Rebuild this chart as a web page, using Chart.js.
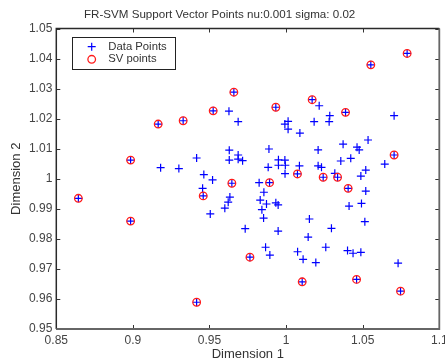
<!DOCTYPE html>
<html>
<head>
<meta charset="utf-8">
<script src="https://cdn.jsdelivr.net/npm/chart.js@4.4.1/dist/chart.umd.min.js"></script>
<style>
  html, body { margin: 0; padding: 0; background: #fff; }
  #wrap { width: 445px; height: 362px; }
</style>
</head>
<body>
<div id="wrap"><canvas id="c" width="445" height="362"></canvas></div>
<script>
const titleText = 'FR-SVM Support Vector Points nu:0.001 sigma: 0.02';
const xAxisTitle = 'Dimension 1';
const yAxisTitle = 'Dimension 2';
const seriesNames = ['Data Points', 'SV points'];

const xTicks = [0.85, 0.9, 0.95, 1, 1.05, 1.1];
const yTicks = [0.95, 0.96, 0.97, 0.98, 0.99, 1, 1.01, 1.02, 1.03, 1.04, 1.05];

// ordinary samples
const dataX = [
  0.9181, 0.9300, 0.9627, 0.9687, 0.9992, 1.0013, 1.0013, 1.0090, 0.9629, 0.9687,
  0.9629, 0.9687, 0.9716, 0.9888, 0.9416, 0.9463, 0.9520, 0.9455, 0.9633, 0.9622,
  0.9600, 0.9505, 0.9733, 0.9950, 0.9992, 0.9950, 0.9995, 0.9993, 0.9883, 0.9824,
  1.0087, 0.9855, 0.9831, 0.9872, 0.9933, 0.9948, 0.9842, 0.9853, 0.9948, 1.0152,
  1.0372, 1.0463, 1.0477, 1.0535, 1.0209, 1.0357, 1.0422, 1.0644, 1.0209, 1.0231,
  1.0318, 1.0488, 1.0520, 1.0520, 1.0411, 1.0492, 1.0296, 1.0514, 1.0144, 1.0259,
  1.0111, 1.0194, 1.0401, 1.0437, 1.0488, 1.0731, 0.9866, 0.9894, 1.0075, 1.0216,
  1.0183, 1.0285, 1.0281, 1.0705
];
const dataY = [
  1.0037, 1.0034, 1.0225, 1.0190, 1.0182, 1.0191, 1.0165, 1.0152, 1.0095, 1.0079,
  1.0062, 1.0065, 1.0060, 1.0099, 1.0069, 1.0014, 0.9996, 0.9968, 0.9939, 0.9922,
  0.9902, 0.9883, 0.9834, 1.0063, 1.0062, 1.0045, 1.0045, 1.0017, 1.0038, 0.9987,
  1.0043, 0.9955, 0.9929, 0.9916, 0.9920, 0.9913, 0.9897, 0.9869, 0.9826, 0.9866,
  1.0115, 1.0105, 1.0096, 1.0129, 1.0096, 1.0059, 1.0068, 1.0049, 1.0043, 1.0038,
  1.0018, 1.0009, 1.0029, 0.9959, 0.9909, 0.9918, 0.9835, 0.9857, 0.9806, 0.9772,
  0.9732, 0.9721, 0.9761, 0.9752, 0.9755, 0.9719, 0.9772, 0.9746, 0.9757, 1.0243,
  1.0190, 1.0210, 1.0190, 1.0210
];

// support vectors (also part of the sample set)
const svX = [
  0.8644, 0.8985, 0.8985, 0.9165, 0.9328, 0.9416, 0.9459, 0.9524, 0.9659, 0.9646,
  0.9764, 0.9933, 0.9892, 1.0074, 1.0105, 1.0170, 1.0242, 1.0336, 1.0388, 1.0405,
  1.0460, 1.0553, 1.0705, 1.0747, 1.0790
];
const svY = [
  0.9935, 1.0062, 0.9859, 1.0182, 1.0193, 0.9589, 0.9943, 1.0226, 1.0288, 0.9985,
  0.9739, 1.0238, 0.9987, 1.0016, 0.9657, 1.0263, 1.0005, 1.0005, 1.0221, 0.9968,
  0.9665, 1.0379, 1.0079, 0.9626, 1.0417
];

const FONT = 'Liberation Sans, Arial, Helvetica, sans-serif';
const pts = (xs, ys) => xs.map((v, i) => ({ x: v, y: ys[i] }));

const crossStyle = { pointStyle: 'cross', radius: 4, borderWidth: 1.2, rotation: 0 };
const ringStyle = { pointStyle: 'circle', radius: 3.8, borderWidth: 1.3, rotation: 0 };

// box, inward tick marks and an in-plot legend
const framePlugin = {
  id: 'frame',
  afterDatasetsDraw(chart) {
    const { ctx, chartArea: a, scales: { x, y } } = chart;
    const t = 4;
    ctx.save();
    ctx.strokeStyle = '#333';
    ctx.lineWidth = 1;
    ctx.beginPath();
    x.ticks.forEach(tk => {
      const px = Math.round(x.getPixelForValue(tk.value)) + 0.5;
      ctx.moveTo(px, a.bottom); ctx.lineTo(px, a.bottom - t);
      ctx.moveTo(px, a.top); ctx.lineTo(px, a.top + t);
    });
    y.ticks.forEach(tk => {
      const py = Math.round(y.getPixelForValue(tk.value)) + 0.5;
      ctx.moveTo(a.left, py); ctx.lineTo(a.left + t, py);
      ctx.moveTo(a.right, py); ctx.lineTo(a.right - t, py);
    });
    ctx.stroke();

    // axes box
    ctx.lineWidth = 1.5;
    ctx.strokeStyle = '#2a2a2a';
    ctx.beginPath();
    ctx.moveTo(a.left, a.bottom); ctx.lineTo(a.left, a.top); ctx.lineTo(a.right, a.top);
    ctx.stroke();
    ctx.strokeStyle = '#666';
    ctx.lineWidth = 1.8;
    ctx.beginPath();
    ctx.moveTo(a.left, a.bottom); ctx.lineTo(a.right, a.bottom); ctx.lineTo(a.right, a.top);
    ctx.stroke();

    // legend
    const lx = a.left + 16, ly = a.top + 8.2, lw = 102.7, lh = 31.6;
    ctx.fillStyle = '#fff';
    ctx.fillRect(lx, ly, lw, lh);
    ctx.strokeStyle = '#222';
    ctx.lineWidth = 1;
    ctx.strokeRect(Math.round(lx) + 0.5, Math.round(ly) + 0.5, Math.round(lw), Math.round(lh));
    ctx.font = '11.3px ' + FONT;
    ctx.textBaseline = 'middle';
    ctx.textAlign = 'left';
    chart.data.datasets.forEach((ds, i) => {
      const rowY = ly + 10 + i * 12.6;
      ctx.strokeStyle = ds.borderColor;
      ctx.fillStyle = 'rgba(0,0,0,0)';
      ctx.lineWidth = ds.borderWidth;
      Chart.helpers.drawPoint(ctx, {
        pointStyle: ds.pointStyle, radius: ds.pointRadius,
        borderWidth: ds.borderWidth, rotation: 0
      }, lx + 19.4, rowY);
      ctx.fillStyle = '#333';
      ctx.fillText(ds.label, lx + 36, rowY);
    });
    ctx.restore();
  }
};

new Chart(document.getElementById('c'), {
  type: 'scatter',
  data: {
    datasets: [
      {
        label: seriesNames[0],
        data: pts(dataX.concat(svX), dataY.concat(svY)),
        pointStyle: crossStyle.pointStyle,
        pointRadius: crossStyle.radius,
        borderWidth: crossStyle.borderWidth,
        borderColor: '#0000ff',
        backgroundColor: '#0000ff',
        order: 2
      },
      {
        label: seriesNames[1],
        data: pts(svX, svY),
        pointStyle: ringStyle.pointStyle,
        pointRadius: ringStyle.radius,
        borderWidth: ringStyle.borderWidth,
        borderColor: '#ff1a1a',
        backgroundColor: 'rgba(0,0,0,0)',
        order: 1
      }
    ]
  },
  options: {
    responsive: false,
    animation: false,
    events: [],
    devicePixelRatio: 1,
    layout: { padding: { left: 0, right: 5.7, top: 0, bottom: 0 } },
    plugins: {
      legend: { display: false },
      tooltip: { enabled: false },
      title: {
        display: true,
        text: titleText,
        color: '#333',
        font: { family: FONT, size: 11.6, weight: 'normal', lineHeight: 1.2 },
        padding: { top: 8, bottom: 6.58 }
      }
    },
    scales: {
      x: {
        type: 'linear',
        position: 'bottom',
        min: 0.85,
        max: 1.1,
        afterBuildTicks: s => { s.ticks = xTicks.map(v => ({ value: v })); },
        afterFit: s => { s.height = 33; s.paddingLeft = 0; s.paddingRight = 0; },
        ticks: {
          callback: v => String(v),
          color: '#444',
          font: { family: FONT, size: 12 },
          padding: 4,
          maxRotation: 0,
          autoSkip: false
        },
        grid: { display: false, drawTicks: false },
        border: { display: false },
        title: {
          display: true,
          text: xAxisTitle,
          color: '#333',
          font: { family: FONT, size: 13, lineHeight: 1.15 },
          padding: { top: 0, bottom: 0 }
        }
      },
      y: {
        type: 'linear',
        position: 'left',
        min: 0.95,
        max: 1.05,
        afterBuildTicks: s => { s.ticks = yTicks.map(v => ({ value: v })); },
        afterFit: s => { s.width = 56.3; s.paddingTop = 0; s.paddingBottom = 0; },
        ticks: {
          callback: v => String(v),
          color: '#444',
          font: { family: FONT, size: 12 },
          padding: 4,
          autoSkip: false
        },
        grid: { display: false, drawTicks: false },
        border: { display: false },
        title: {
          display: true,
          text: yAxisTitle,
          color: '#333',
          font: { family: FONT, size: 13, lineHeight: 1.15 },
          padding: { top: 8.5, bottom: 0 }
        }
      }
    }
  },
  plugins: [framePlugin]
});
</script>
</body>
</html>
